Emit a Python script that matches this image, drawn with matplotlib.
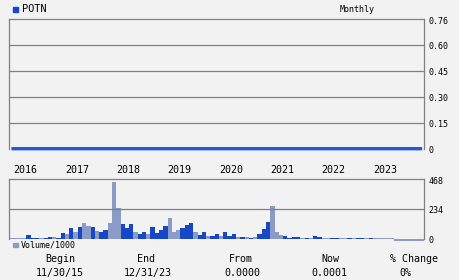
#!/usr/bin/env python
"""
Monthly price / volume chart for POTN, Dec 2015 - Dec 2023.
Saves out.png (460x280).
"""

# importing libraries
import pandas as pd
import matplotlib
matplotlib.use("Agg")
import matplotlib.pyplot as plt
from matplotlib.transforms import ScaledTranslation, blended_transform_factory
from matplotlib.patches import Rectangle

# ---- data ----
ticker = "POTN"
period = "Monthly"

# one bar per month, first bar is Dec 2015
months = pd.date_range("2015-12-01", periods=97, freq="MS")

# closing price (flat at about zero all along)
price = [0.0] * 96 + [0.0001]

# volume / 1000
volume = [2, 2, 2, 2, 25, 2, 2, 0, 2, 10, 10, 2,
          41, 33, 81, 49, 89, 121, 97, 89, 57, 49, 65, 121,
          449, 237, 113, 84, 113, 49, 33, 49, 33, 89, 41, 65,
          97, 160, 49, 65, 81, 105, 121, 49, 25, 49, 17, 17,
          33, 17, 49, 17, 33, 10, 10, 10, 2, 10, 33, 73,
          129, 256, 49, 25, 17, 2, 10, 10, 2, 2, 2, 17,
          10, 2, 2, 2, 2, 2, 2, 2, 2, 2, 2, 2,
          2, 2, 2, 2, 2, 2, -22, -22, -22, -22, -22, -22,
          -22]

# bar shade per month: d = dark blue, l = light blue-grey
shade = ("lllldddlddld"   # Dec15 - Nov16
         "dldldlldlddl"   # Dec16 - Nov17
         "lldddlddlddd"   # Dec17 - Nov18
         "dllldddlddld"   # Dec18 - Nov19
         "dldddldldldd"   # Dec19 - Nov20
         "dlllddddldld"   # Dec20 - Nov21
         "dllddlldlddl"   # Dec21 - Nov22
         "dlllllllllll"   # Dec22 - Nov23
         "l")             # Dec23

price_ticks = [0, 0.15, 0.30, 0.45, 0.60, 0.75]
price_labels = ["0", "0.15", "0.30", "0.45", "0.60", "0.76"]
vol_ticks = [0, 234, 468]
vol_labels = ["0", "234", "468"]

summary_heads = ["Begin", "End", "From", "Now", "% Change"]
summary_vals = ["11/30/15", "12/31/23", "0.0000", "0.0001", "0%"]

# ---- style ----
BG = "#f2f2f2"
GRID = "#808080"
DARK = "#1746c6"
LIGHT = "#8a9bc8"
LINE = "#2457d0"
MONO = "DejaVu Sans Mono"
W, H = 460, 280


def fig_box(left, top, right, bottom):
    # pixel box -> figure fraction [l, b, w, h]
    return [left / W, 1 - bottom / H, (right - left) / W, (bottom - top) / H]


def px(x, y):
    # pixel position -> figure fraction
    return x / W, 1 - y / H


def style_axes(ax):
    ax.set_facecolor(BG)
    ax.set_xticks([])
    ax.set_yticks([])
    for side in ["top", "left", "right"]:
        ax.spines[side].set_color(GRID)
        ax.spines[side].set_linewidth(0.9)
    ax.spines["bottom"].set_visible(False)


def right_labels(ax, ticks, labels, dy):
    # labels on the right side, slightly below each gridline
    trans = ax.get_yaxis_transform() + ScaledTranslation(4.5 / 100, -dy / 100, ax.figure.dpi_scale_trans)
    for t, lab in zip(ticks, labels):
        ax.text(1.0, t, lab, transform=trans, ha="left", va="center",
                family=MONO, fontsize=6, color="black")


def main():
    fig = plt.figure(figsize=(W / 100, H / 100), dpi=100, facecolor=BG)
    x = list(range(len(months)))

    # ---- price panel ----
    ax_p = fig.add_axes(fig_box(9.3, 19.3, 424.3, 148.7))
    style_axes(ax_p)
    ax_p.set_xlim(-0.5, len(months) - 0.5)
    ax_p.set_ylim(0, price_ticks[-1])
    for t in price_ticks[1:-1]:
        ax_p.axhline(t, color=GRID, lw=0.9)
    ax_p.plot(x, price, color=LINE, lw=2.4, clip_on=False, solid_capstyle="butt")
    right_labels(ax_p, price_ticks, price_labels, 1.8)

    # ---- volume panel ----
    base = -8
    ax_v = fig.add_axes(fig_box(9.3, 179.3, 424.3, 241.0))
    style_axes(ax_v)
    ax_v.set_xlim(-0.5, len(months) - 0.5)
    ax_v.set_ylim(-22, vol_ticks[-1])
    ax_v.spines["left"].set_bounds(base, vol_ticks[-1])
    ax_v.spines["right"].set_bounds(base, vol_ticks[-1])
    ax_v.axhline(vol_ticks[1], color=GRID, lw=0.9)
    colors = [DARK if s == "d" else LIGHT for s in shade]
    heights = [v - base for v in volume]
    ax_v.bar(x, heights, bottom=base, width=1.0, color=colors, linewidth=0)
    right_labels(ax_v, vol_ticks, vol_labels, 1.8)

    # year labels, left aligned on each January bar
    year_trans = blended_transform_factory(ax_v.transData, ax_v.transAxes) + \
        ScaledTranslation(0, 9.3 / 100, fig.dpi_scale_trans)
    for i, m in enumerate(months):
        if m.month == 1:
            ax_v.text(i - 0.5, 1.0, str(m.year), transform=year_trans,
                      ha="left", va="center", family=MONO, fontsize=7.2)

    # ---- legends ----
    fig.patches.append(Rectangle(px(13.2, 11.8), 4.6 / W, 4.8 / H,
                                 transform=fig.transFigure, color=DARK))
    fig.text(*px(22.5, 9.3), ticker, ha="left", va="center",
             family=MONO, fontsize=7.4)
    fig.text(*px(340, 9.0), period, ha="left", va="center",
             family=MONO, fontsize=6)

    fig.patches.append(Rectangle(px(13.3, 247.3), 4.2 / W, 4.2 / H,
                                 transform=fig.transFigure, color=LIGHT))
    fig.text(*px(21, 245.3), "Volume/1000", ha="left", va="center",
             family=MONO, fontsize=6)

    # ---- summary table ----
    head_x = [60.5, 146, 241, 330, 414]
    val_x = [59.7, 147.5, 242.5, 329, 405]
    for hx, vx, hd, vl in zip(head_x, val_x, summary_heads, summary_vals):
        fig.text(*px(hx, 259.3), hd, ha="center", va="center",
                 family=MONO, fontsize=7.2)
        fig.text(*px(vx, 272.7), vl, ha="center", va="center",
                 family=MONO, fontsize=7.2)

    fig.savefig("out.png", dpi=100, facecolor=BG)


if __name__ == "__main__":
    main()
